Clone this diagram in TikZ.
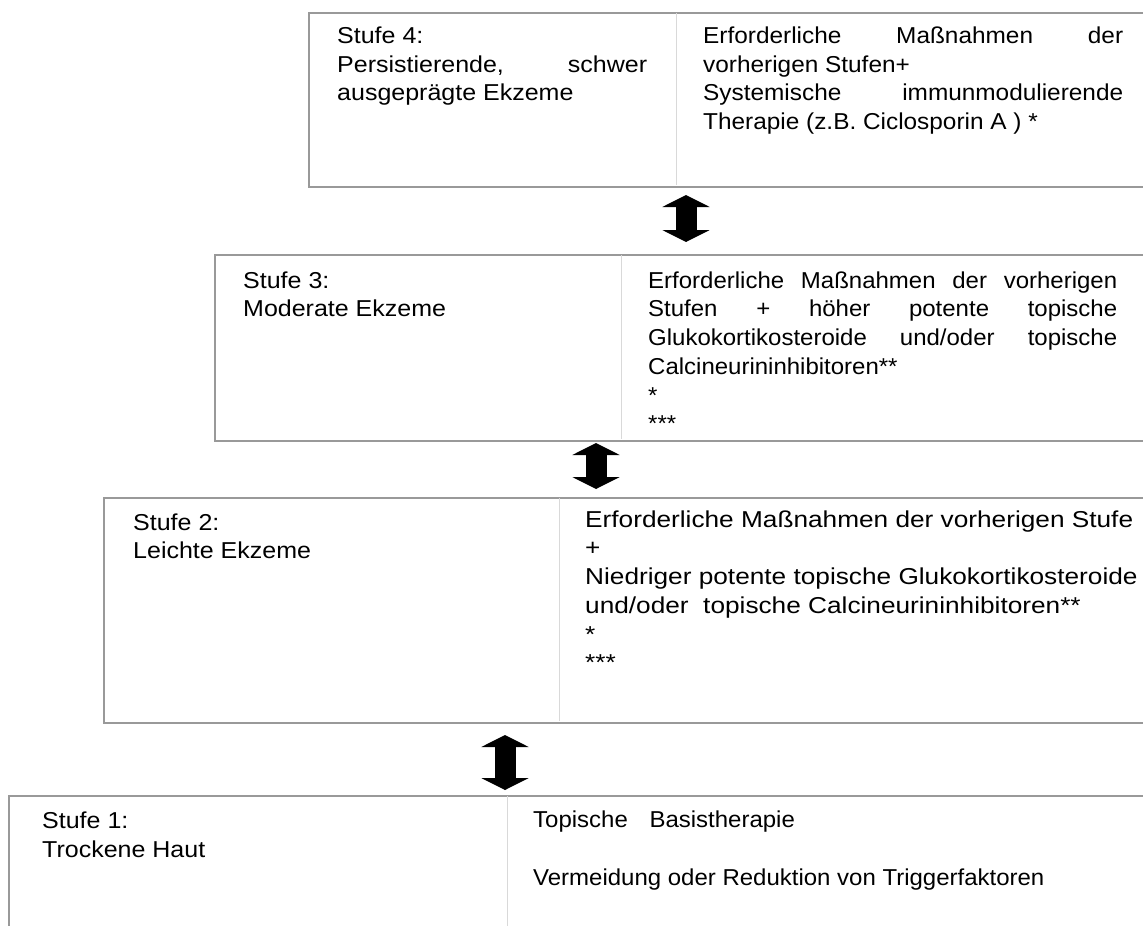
\documentclass[tikz,border=0pt]{standalone}
\usepackage{fontspec}
\setmainfont{Liberation Sans}
\newfontfamily\stufeA[FakeStretch=1.087]{Liberation Sans}
\newfontfamily\stufeB[FakeStretch=1.043]{Liberation Sans}
\newfontfamily\stufeC[FakeStretch=1.14]{Liberation Sans}
\newfontfamily\stufeD[FakeStretch=1.06]{Liberation Sans}
\usetikzlibrary{arrows.meta}
\tikzset{
  stagebox/.style={draw=black!40, line width=2pt, rectangle, anchor=north west, inner sep=0pt},
  divider/.style={draw=black!15, line width=1pt},
  txt/.style={anchor=north west, inner sep=0pt, align=left, font=\stufeA\fontsize{23}{28.7}\selectfont, text=black},
  txtB/.style={txt, font=\stufeB\fontsize{23}{28.7}\selectfont},
  txtC/.style={txt, font=\stufeC\fontsize{23}{28.7}\selectfont},
  txtD/.style={txt, font=\stufeD\fontsize{23}{28.7}\selectfont},
  blockarrow/.style={draw=black, line width=21pt, {Triangle[width=47pt,length=12pt]}-{Triangle[width=47pt,length=12pt]}},
}
\begin{document}
\begin{tikzpicture}[x=1pt,y=-1pt]
\useasboundingbox (0,0) rectangle (1143,926);
\clip (0,0) rectangle (1143,926);
\fill[white] (0,0) rectangle (1143,926);

% boxes
\node[stagebox, minimum width=860pt, minimum height=174pt] (s4) at (308,12) {};
\node[stagebox, minimum width=950pt, minimum height=186pt] (s3) at (214,254) {};
\node[stagebox, minimum width=1060pt, minimum height=225pt] (s2) at (103,497) {};
\node[stagebox, minimum width=1160pt, minimum height=200pt] (s1) at (8,795) {};

% dividers
\draw[divider] (676,13) -- (676,185);
\draw[divider] (621,255) -- (621,439);
\draw[divider] (559,498) -- (559,721);
\draw[divider] (507,796) -- (507,926);

% texts
\node[txt] (t4l) at (337,23.2) {\strut Stufe 4:\\
  \hbox to 310pt{Persistierende,\hfill schwer}\\
  ausgeprägte Ekzeme};
\node[txtD] (t4r) at (703,23.2) {\strut\hbox to 420pt{Erforderliche\hfill Maßnahmen\hfill der}\\
  vorherigen Stufen+\\
  \hbox to 420pt{Systemische\hfill immunmodulierende}\\
  Therapie (z.B. Ciclosporin A ) *};

\node[txt] (t3l) at (243,268) {\strut Stufe 3:\\ Moderate Ekzeme};
\node[txtB] (t3r) at (648,268) {\strut\hbox to 469pt{Erforderliche\hfill Maßnahmen\hfill der\hfill vorherigen}\\
  \hbox to 469pt{Stufen\hfill +\hfill höher\hfill potente\hfill topische}\\
  \hbox to 469pt{Glukokortikosteroide\hfill und/oder\hfill topische}\\
  Calcineurininhibitoren**\\
  *\\
  ***};

\node[txt] (t2l) at (133,510) {\strut Stufe 2:\\ Leichte Ekzeme};
\node[txtC] (t2r) at (585,507) {\strut Erforderliche Maßnahmen der vorherigen Stufe\\
  +\\
  Niedriger potente topische Glukokortikosteroide\\
  und/oder\ \ topische Calcineurininhibitoren**\\
  *\\
  ***};

\node[txt] (t1l) at (42,808) {\strut Stufe 1:\\ Trockene Haut};
\node[txtB] (t1r) at (533,807) {\strut Topische\hspace{15pt} Basistherapie};
\node[txtB] (t1r2) at (533,865) {\strut Vermeidung oder Reduktion von Triggerfaktoren};

% arrows
\coordinate (a1t) at (686,195);
\coordinate (a1b) at (686,242);
\coordinate (a2t) at (596,443);
\coordinate (a2b) at (596,489);
\coordinate (a3t) at (505,735);
\coordinate (a3b) at (505,790);
\draw[blockarrow] (a1t) -- (a1b);
\draw[blockarrow] (a2t) -- (a2b);
\draw[blockarrow] (a3t) -- (a3b);
\end{tikzpicture}
\end{document}
